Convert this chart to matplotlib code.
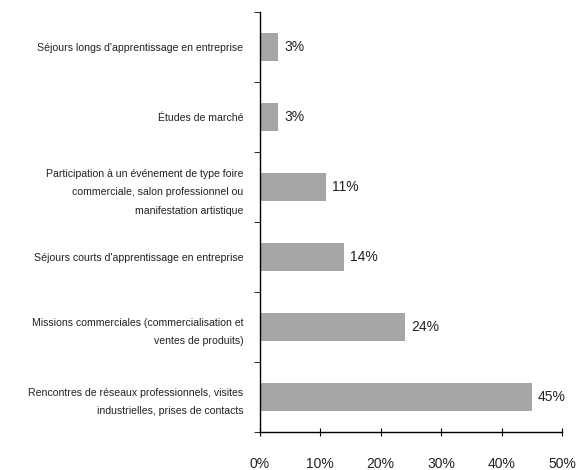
import matplotlib
matplotlib.use("Agg")
import matplotlib.pyplot as plt
import numpy as np

# données (du bas vers le haut)
categories = [
    "Rencontres de réseaux professionnels, visites\nindustrielles, prises de contacts",
    "Missions commerciales (commercialisation et\nventes de produits)",
    "Séjours courts d'apprentissage en entreprise",
    "Participation à un événement de type foire\ncommerciale, salon professionnel ou\nmanifestation artistique",
    "Études de marché",
    "Séjours longs d'apprentissage en entreprise",
]
values = [45, 24, 14, 11, 3, 3]
xticks = [0, 10, 20, 30, 40, 50]

plt.rcParams['font.family'] = ['Liberation Sans', 'DejaVu Sans']

fig = plt.figure(figsize=(5.8, 4.7), dpi=100)
ax = fig.add_axes([0.448, 0.081, 0.521, 0.893])

y = np.arange(len(categories))
ax.barh(y, values, height=0.4, color='#a6a6a8')

for yi, v in zip(y, values):
    ax.text(v + 1.0, yi, f"{v}%", va='center', ha='left', fontsize=10, color='#222222')

ax.set_xlim(0, 50)
ax.set_ylim(-0.5, len(categories) - 0.5)
ax.set_xticks(xticks)
ax.set_xticklabels([f"{t}%" for t in xticks], fontsize=10, color='#222222')
ax.tick_params(axis='x', direction='inout', length=6, pad=15)

ax.set_yticks(y)
ax.set_yticklabels(categories, fontsize=7.6, linespacing=2.05, ha='right', color='#222222')
ax.tick_params(axis='y', which='major', length=0, pad=12)
ax.set_yticks(np.arange(-0.5, len(categories), 1.0), minor=True)
ax.tick_params(axis='y', which='minor', direction='out', length=4)

for s in ['top', 'right']:
    ax.spines[s].set_visible(False)
ax.spines['left'].set_linewidth(1)
ax.spines['bottom'].set_linewidth(1)

plt.savefig("out.png", dpi=100)
